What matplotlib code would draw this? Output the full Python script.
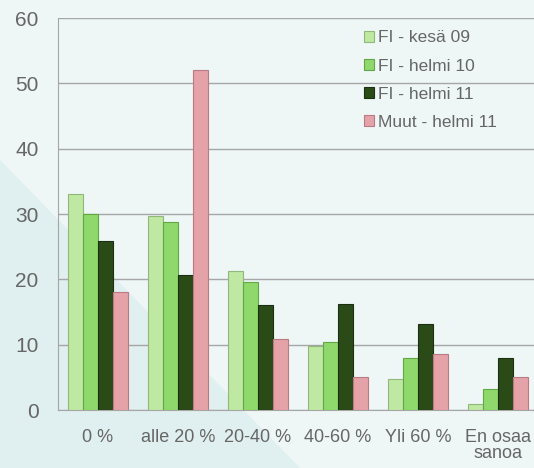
"""Recreate grouped bar chart (FI vs Muut) with matplotlib."""

import matplotlib
matplotlib.use("Agg")
import matplotlib.pyplot as plt
from matplotlib.patches import Polygon
import numpy as np

# Data
categories = ["0 %", "alle 20 %", "20-40 %", "40-60 %", "Yli 60 %", "En osaa\nsanoa"]
series_names = ["FI - kesä 09", "FI - helmi 10", "FI - helmi 11", "Muut - helmi 11"]
fi_kesa09 = [33.0, 29.7, 21.3, 9.8, 4.7, 0.9]
fi_helmi10 = [30.0, 28.7, 19.6, 10.4, 8.0, 3.2]
fi_helmi11 = [25.8, 20.6, 16.1, 16.3, 13.1, 7.9]
muut_helmi11 = [18.0, 52.1, 10.8, 5.1, 8.5, 5.1]
yticks = [0, 10, 20, 30, 40, 50, 60]

colors = ["#bfe9a3", "#8fd96c", "#2a4b18", "#e5a2a9"]
edges = ["#8fb87a", "#5fa845", "#1a3010", "#b87b82"]
text_color = "#666666"

plt.rcParams["font.family"] = ["Liberation Sans", "DejaVu Sans"]

fig = plt.figure(figsize=(5.34, 4.68), dpi=100)
fig.patch.set_facecolor("#eef6f6")

# subtle background shape (darker teal wedge bottom-left)
fig.patches.append(Polygon([(0, 1 - 160 / 468), (300 / 534, 0), (0, 0)],
                           closed=True, transform=fig.transFigure,
                           facecolor="#e0efef", edgecolor="none", zorder=-5))

ax = fig.add_axes([58 / 534, 58 / 468, 480 / 534, 392 / 468])
ax.set_zorder(2)
ax.patch.set_alpha(0)

x = np.arange(len(categories))
width = 0.185
all_series = [fi_kesa09, fi_helmi10, fi_helmi11, muut_helmi11]
for i, vals in enumerate(all_series):
    offs = (i - 1.5) * width
    ax.bar(x + offs, vals, width, color=colors[i], edgecolor=edges[i],
           linewidth=0.8, label=series_names[i], zorder=3)

ax.set_xlim(-0.5, len(categories) - 0.5)
ax.set_ylim(0, 60)
ax.set_yticks(yticks)
ax.set_xticks(x)
ax.set_xticklabels(categories, fontsize=13, color=text_color, linespacing=0.9)
ax.tick_params(axis="y", labelsize=15, labelcolor=text_color, length=0, pad=14)
ax.tick_params(axis="x", length=0, pad=14)
ax.grid(axis="y", color="#a6a6a6", linewidth=1, zorder=0)
ax.set_axisbelow(True)

for side in ["top", "right"]:
    ax.spines[side].set_visible(False)
ax.spines["left"].set_color("#a6a6a6")
ax.spines["bottom"].set_color("#a6a6a6")

leg = ax.legend(loc="upper left", bbox_to_anchor=(290 / 480, 1.008), frameon=False,
                fontsize=12.5, handlelength=0.6, handleheight=0.6,
                handletextpad=0.2, labelspacing=0.75, labelcolor=text_color)

fig.savefig("out.png", dpi=100, facecolor=fig.get_facecolor())
